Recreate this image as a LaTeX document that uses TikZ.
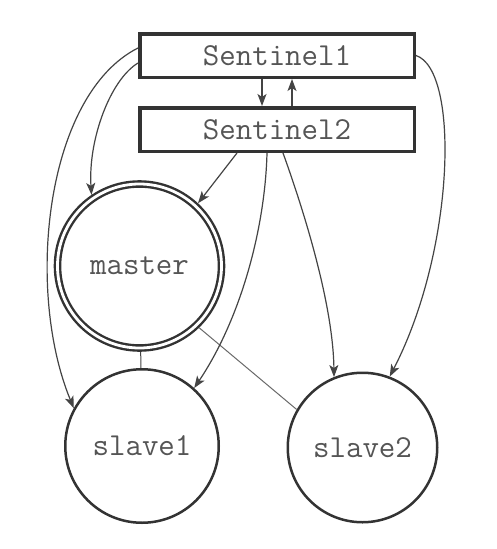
\documentclass[tikz,border=0pt]{standalone}
\usepackage{fontspec}
\usetikzlibrary{arrows.meta}
\definecolor{ink}{HTML}{333333}
\definecolor{wire}{HTML}{444444}
\definecolor{label}{HTML}{555555}
\tikzset{
  sentinel/.style={draw=ink, line width=3.5pt, rectangle,
    minimum width=274.5pt, minimum height=43.5pt, inner sep=0pt,
    font=\ttfamily\fontsize{32}{36}\selectfont, text=label},
  server/.style={draw=ink, line width=2.5pt, circle, inner sep=0pt,
    font=\ttfamily\fontsize{32}{36}\selectfont, text=label},
  primary/.style={server, double, double distance=2.8pt, line width=2.4pt,
    outer sep=3.8pt},
  link/.style={draw=wire, line width=1.2pt,
    -{Stealth[length=12pt,width=9pt,inset=3pt]}},
  replica/.style={draw=wire, line width=1pt},
}
\begin{document}
\begin{tikzpicture}[x=1pt,y=-1pt]
  \useasboundingbox (0,0) rectangle (496,549);
  \fill[white] (0,0) rectangle (496,549);

  % sentinels
  \node[sentinel] (s1) at (277,55.5) {Sentinel1};
  \node[sentinel] (s2) at (277,129.5) {Sentinel2};

  % data servers
  \node[primary, minimum size=164pt] (master) at (139.5,266) {master};
  \node[server, minimum size=153.5pt] (slave1) at (142,446) {slave1};
  \node[server, minimum size=149.5pt] (slave2) at (362.5,447.5) {slave2};

  % replication links
  \draw[replica] (master) -- (slave1);
  \draw[replica, draw=wire!80] (master.-46.7) -- (slave2.150);

  % sentinel <-> sentinel
  \draw[link] ([xshift=-15pt]s1.south) -- ([xshift=-15pt]s2.north);
  \draw[link] ([xshift=15pt]s2.north) -- ([xshift=15pt]s1.south);

  % Sentinel1 monitoring
  \draw[link] ([yshift=7.5pt]s1.west) .. controls (45,95) and (25,290) .. (slave1.151);
  \draw[link] ([yshift=-7.5pt]s1.west) .. controls (110,80) and (88,140) .. (master.124.7);
  \draw[link] (s1.east) .. controls (460,70) and (455,250) .. (slave2.69.7);

  % Sentinel2 monitoring
  \draw[link] ([xshift=-40pt]s2.south) -- (master.47.1);
  \draw[link] ([xshift=-10pt]s2.south) .. controls (265,230) and (240,320) .. (slave1.48);
  \draw[link] ([xshift=6pt]s2.south) .. controls (300,200) and (333,300) .. (slave2.112.1);
\end{tikzpicture}
\end{document}
